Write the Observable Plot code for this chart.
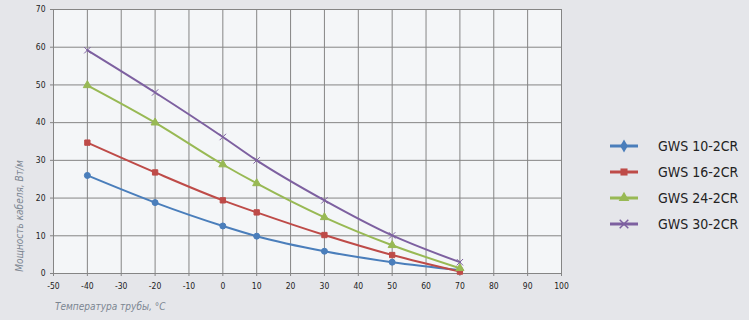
<!DOCTYPE html>
<html>
<head>
<meta charset="utf-8">
<script src="https://cdn.jsdelivr.net/npm/d3@7"></script>
<script src="https://cdn.jsdelivr.net/npm/@observablehq/plot@0.6"></script>
<style>
  html, body { margin: 0; padding: 0; background: #e5e6ea; }
  #wrap { position: relative; width: 749px; height: 320px; overflow: hidden; }
  #legend { position: absolute; left: 608px; top: 133px; font-family: "DejaVu Sans Condensed", "Liberation Sans Narrow", sans-serif; font-stretch: condensed; font-size: 14px; color: #222; }
  .li { display: flex; align-items: center; height: 26px; }
  .li span { margin-left: 14px; }
</style>
</head>
<body>
<div id="wrap"><div id="chart"></div><div id="legend"></div></div>
<script>
const temps = [-40, -20, 0, 10, 30, 50, 70];
const seriesNames = ["GWS 10-2CR", "GWS 16-2CR", "GWS 24-2CR", "GWS 30-2CR"];
const gws10 = [26, 18.8, 12.6, 9.9, 5.9, 3.0, 0.9];
const gws16 = [34.7, 26.8, 19.4, 16.2, 10.2, 4.9, 0.5];
const gws24 = [49.9, 40, 28.9, 23.9, 14.9, 7.5, 1.4];
const gws30 = [59.2, 48, 36.2, 30, 19.4, 10.1, 3.0];
const xTicks = [-50, -40, -30, -20, -10, 0, 10, 20, 30, 40, 50, 60, 70, 80, 90, 100];
const yTicks = [0, 10, 20, 30, 40, 50, 60, 70];
const colors = ["#4a7ebb", "#be4b48", "#98b954", "#7d60a0"];
const symbols = ["circle", "square", "triangle", "times"];

const allSeries = [gws10, gws16, gws24, gws30];
const data = [];
allSeries.forEach((vals, i) => vals.forEach((v, j) => data.push({series: seriesNames[i], t: temps[j], p: v})));

const font = "'DejaVu Sans Condensed', 'Liberation Sans Narrow', sans-serif";
const fmt = d => String(d);

const chart = Plot.plot({
  width: 749, height: 320,
  marginLeft: 53, marginRight: 188, marginTop: 9, marginBottom: 47,
  style: {background: "transparent", fontFamily: font, fontSize: "8px", color: "#222"},
  x: {domain: [-50, 100]},
  y: {domain: [0, 70]},
  color: {domain: seriesNames, range: colors},
  symbol: {domain: seriesNames, range: symbols},
  marks: [
    Plot.frame({fill: "#f4f6f8", stroke: null}),
    Plot.gridX(xTicks, {stroke: "#858585", strokeOpacity: 1, strokeWidth: 1}),
    Plot.gridY(yTicks, {stroke: "#858585", strokeOpacity: 1, strokeWidth: 1}),
    Plot.axisX(xTicks, {tickSize: 3, tickPadding: 6, stroke: "#858585", fill: "#222", fontSize: 8.5, label: null, tickFormat: fmt}),
    Plot.axisY(yTicks, {tickSize: 3, tickPadding: 5, stroke: "#858585", fill: "#222", fontSize: 8.5, label: null, tickFormat: fmt}),
    Plot.ruleY([0], {stroke: "#858585"}),
    Plot.ruleX([-50], {stroke: "#858585"}),
    Plot.line(data, {x: "t", y: "p", z: "series", stroke: "series", strokeWidth: 2, curve: "monotone-x"}),
    Plot.dot(data, {x: "t", y: "p", symbol: "series", fill: "series", stroke: "series", r: 3, strokeWidth: 1})
  ]
});
document.getElementById("chart").appendChild(chart);

const svg = d3.select(chart);
svg.append("text")
  .attr("x", 55).attr("y", 310)
  .attr("text-anchor", "start")
  .attr("font-family", font).attr("font-style", "italic").attr("font-size", 10)
  .attr("fill", "#7b8591")
  .text("Температура трубы, °C");
svg.append("text")
  .attr("transform", "translate(23,216) rotate(-90)")
  .attr("text-anchor", "middle")
  .attr("font-family", font).attr("font-style", "italic").attr("font-size", 10)
  .attr("fill", "#7b8591")
  .text("Мощность кабеля, Вт/м");

const legend = d3.select("#legend");
seriesNames.forEach((name, i) => {
  const row = legend.append("div").attr("class", "li");
  const s = row.append("svg").attr("width", 36).attr("height", 14);
  s.append("line").attr("x1", 2).attr("x2", 30).attr("y1", 7).attr("y2", 7).attr("stroke", colors[i]).attr("stroke-width", 3);
  s.append("path").attr("transform", "translate(16,7)")
    .attr("d", d3.symbol(i === 0 ? d3.symbolDiamond : i === 1 ? d3.symbolSquare : i === 2 ? d3.symbolTriangle : d3.symbolTimes, 50)())
    .attr("fill", colors[i]).attr("stroke", colors[i]).attr("stroke-width", i === 3 ? 1.5 : 0);
  row.append("span").text(name);
});
</script>
</body>
</html>
